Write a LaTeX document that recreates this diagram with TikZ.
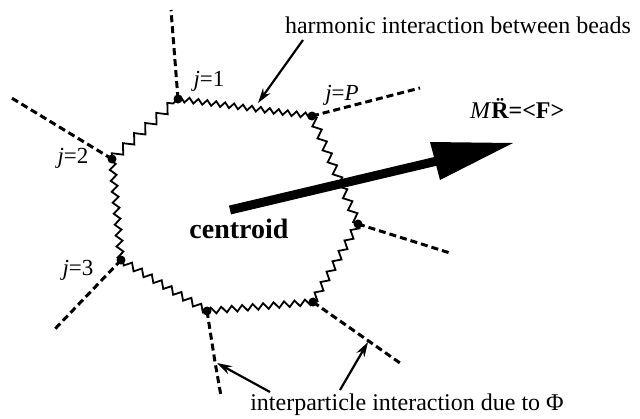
\documentclass[tikz,border=0pt]{standalone}
\usepackage{fontspec}
\setmainfont{Liberation Serif}
\usetikzlibrary{decorations.pathmorphing,arrows.meta}
\begin{document}
\begin{tikzpicture}[x=1pt,y=-1pt,
  bead/.style={circle,fill=black,inner sep=0pt,minimum size=9pt},
  spring/.style={line width=1.8pt,line join=miter,decorate,decoration={zigzag,segment length=#1,amplitude=0.29*#1}},
  spring/.default=10pt,
  pairline/.style={line width=3pt,dash pattern=on 7pt off 4pt},
  pointer/.style={line width=2.2pt,-{Stealth[length=15pt,width=9pt]}},
  lbl/.style={inner sep=0pt,anchor=base,font=\fontsize{24}{28}\selectfont},
  jlbl/.style={inner sep=0pt,anchor=base,font=\fontsize{23}{26}\selectfont}]
\useasboundingbox (0,0) rectangle (640,418);
% beads
\node[bead] (b1) at (178,99) {};
\node[bead] (bP) at (312,116) {};
\node[bead] (bR) at (358,224) {};
\node[bead] (bLR) at (313,302) {};
\node[bead] (bB) at (207,311) {};
\node[bead] (b3) at (121,260) {};
\node[bead] (b2) at (112,159) {};
% springs
\draw[spring=9pt] (b1.center) -- (bP.center);
\draw[spring=13pt] (bP.center) -- (bR.center);
\draw[spring=12pt] (bR.center) -- (bLR.center);
\draw[spring=10.5pt] (bLR.center) -- (bB.center);
\draw[spring=11.5pt] (bB.center) -- (b3.center);
\draw[spring=11pt] (b3.center) -- (b2.center);
\draw[spring=15pt] (b2.center) -- (b1.center);
% interparticle lines
\coordinate (e1) at (171,10);
\coordinate (e2) at (10,97);
\coordinate (eP) at (420,88);
\coordinate (eR) at (450,253);
\coordinate (eLR) at (400,363);
\coordinate (eBk) at (215,362);
\coordinate (eB) at (221,396);
\coordinate (e3) at (54,330);
\draw[pairline] (b1.center) -- (e1);
\draw[pairline] (b2.center) -- (e2);
\draw[pairline] (bP.center) -- (eP);
\draw[pairline] (bR.center) -- (eR);
\draw[pairline] (bLR.center) -- (eLR);
\draw[pairline] (bB.center) -- (eBk) -- (eB);
\draw[pairline] (b3.center) -- (e3);
% centroid arrow
\coordinate (ct) at (230,210);
\coordinate (cb) at (437,161);
\coordinate (cA) at (430,142);
\coordinate (cTip) at (513,143);
\coordinate (cC) at (440,180);
\draw[line width=9pt] (ct) -- (cb);
\fill (cA) -- (cTip) -- (cC) -- (435,161) -- cycle;
% labels
\node[lbl,font=\fontsize{28}{32}\selectfont\bfseries] (cen) at (239,238) {centroid};
\node[jlbl] (l1) at (209,86) {\textit{j}=1};
\node[jlbl] (l2) at (73,163) {\textit{j}=2};
\node[jlbl] (l3) at (78,275) {\textit{j}=3};
\node[jlbl] (lP) at (342,100) {\textit{j}=\textit{P}};
\node[lbl,anchor=base west] (eq) at (470,118) {\textit{M}\textbf{\"R=<F>}};
\node[lbl] (harm) at (458,33) {harmonic interaction between beads};
\node[lbl] (inter) at (407,410) {interparticle interaction due to Φ};
% pointers
\coordinate (h0) at (303,40);
\coordinate (h1) at (258,103);
\coordinate (p0) at (270,392);
\coordinate (p1) at (217,363);
\coordinate (q0) at (340,390);
\coordinate (q1) at (368,342);
\draw[pointer] (h0) -- (h1);
\draw[pointer] (p0) -- (p1);
\draw[pointer] (q0) -- (q1);
\end{tikzpicture}
\end{document}
